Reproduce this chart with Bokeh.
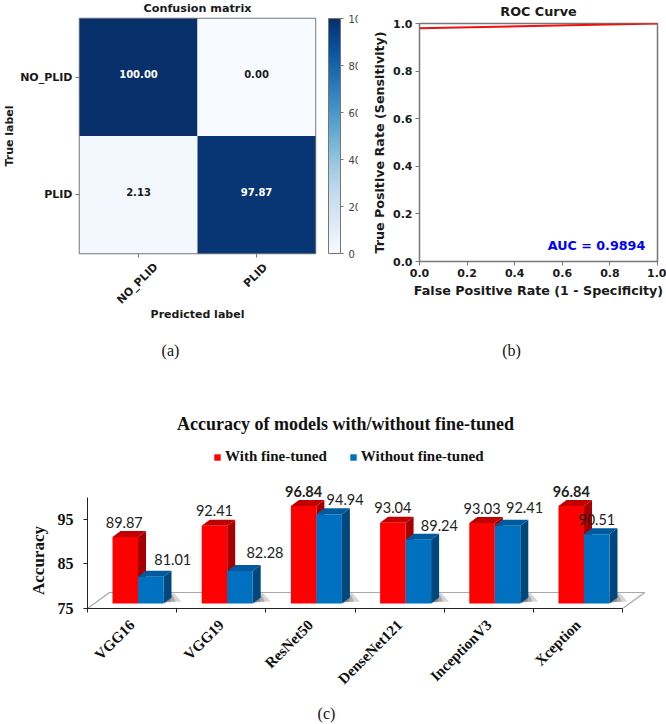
from math import radians, pi
from bokeh.plotting import figure
from bokeh.layouts import column, row
from bokeh.models import (ColumnDataSource, LinearColorMapper, ColorBar, FixedTicker, LinearAxis,
                          Range1d, Legend, LegendItem, PrintfTickFormatter)
from bokeh.palettes import Blues256
from bokeh.core.properties import value
from bokeh.embed import file_html
from bokeh.resources import INLINE

# ---------- data ----------
cm_labels = ["NO_PLID", "PLID"]
cm_values = [[100.00, 0.00], [2.13, 97.87]]
cbar_ticks = [0, 20, 40, 60, 80, 100]
roc_fpr = [0.0, 1.0]
roc_tpr = [0.98, 1.0]
roc_ticks = [0.0, 0.2, 0.4, 0.6, 0.8, 1.0]
auc_text = "AUC = 0.9894"
models = ["VGG16", "VGG19", "ResNet50", "DenseNet121", "InceptionV3", "Xception"]
with_ft = [89.87, 92.41, 96.84, 93.04, 93.03, 96.84]
without_ft = [81.01, 82.28, 94.94, 89.24, 92.41, 90.51]
acc_ticks = [75, 85, 95]

# ---------- styles / layout ----------
SANS = "DejaVu Sans"
SERIF = "Liberation Serif"
AXC = "#777777"
TXT = "#1a1a1a"
RED, RED_TOP, RED_SIDE = "#ff0000", "#c00000", "#a60000"
BLUE, BLUE_TOP, BLUE_SIDE = "#0070c0", "#005a9e", "#00487c"
red_dx = [-1, 0, 0, 0, 0, 0]
blue_dx = [22, 25, 16, 21, 17, 0]
red_dy = [15, 15, 14, 15, 14, 14]
blue_dy = [17, 18, 15, 14, 18, 15]


def style_mpl(ax, size):
    ax.axis_line_color = None
    ax.major_tick_line_color = AXC
    ax.major_tick_out = 4
    ax.major_tick_in = 0
    ax.minor_tick_line_color = None
    ax.major_label_text_font = SANS
    ax.major_label_text_font_style = "bold"
    ax.major_label_text_font_size = size
    ax.major_label_text_color = TXT
    ax.axis_label_text_font = SANS
    ax.axis_label_text_font_style = "bold"
    ax.axis_label_text_color = TXT


def page_text(p, corner, origin, px, py, text, font=SANS, size="11px", style="bold", color=TXT, angle=0.0):
    """Text outside the frame, placed by offset from the frame's bottom-left corner."""
    p.text([corner[0]], [corner[1]], text=[text], x_offset=px - origin[0], y_offset=py - origin[1],
           angle=angle, text_align="center", text_baseline="middle", text_font=value(font),
           text_font_style=style, text_font_size=size, text_color=color, level="overlay")


# ---------- (a) confusion matrix ----------
pal = tuple(reversed(Blues256))
mapper = LinearColorMapper(palette=pal, low=0, high=100)
cx, cy, cv, ct, cc = [], [], [], [], []
for r in range(2):
    for k in range(2):
        v = cm_values[r][k]
        cx.append(k + 0.5); cy.append(r + 0.5); cv.append(v)
        ct.append(f"{v:.2f}")
        cc.append("white" if v > 50 else TXT)
src = ColumnDataSource(dict(x=cx, y=cy, v=cv, t=ct, c=cc))
a = figure(title=None, frame_width=236, frame_height=235, min_border_left=79, min_border_right=43,
           min_border_top=18, min_border_bottom=117, x_range=Range1d(0, 2), y_range=Range1d(2, 0),
           output_backend="svg", toolbar_location=None)
a.grid.visible = False
a.outline_line_color = AXC
a.outline_line_width = 1.5
a.rect("x", "y", 1, 1, source=src, fill_color={"field": "v", "transform": mapper}, line_color=None)
a.text("x", "y", text="t", source=src, text_color="c", text_align="center", text_baseline="middle",
       y_offset=-3, text_font=value(SANS), text_font_style="bold", text_font_size="10px")
a.xaxis.ticker = FixedTicker(ticks=[0.5, 1.5])
a.yaxis.ticker = FixedTicker(ticks=[0.5, 1.5])
a.yaxis.major_label_overrides = {0.5: cm_labels[0], 1.5: cm_labels[1]}
style_mpl(a.xaxis[0], "11px")
style_mpl(a.yaxis[0], "11px")
a.xaxis.major_label_text_color = None
a.xaxis.major_label_text_font_size = "1px"
a.yaxis.major_label_standoff = 3
a.yaxis.axis_label = "True label"
a.yaxis.axis_label_text_font_size = "11px"
a.yaxis.axis_label_standoff = 1
A_C, A_O = (0, 2), (79, 253)
page_text(a, A_C, A_O, 197, 8, "Confusion matrix", size="11.2px")
page_text(a, A_C, A_O, 137, 283, cm_labels[0], angle=radians(45))
page_text(a, A_C, A_O, 255, 275, cm_labels[1], angle=radians(45))
page_text(a, A_C, A_O, 197, 314, "Predicted label", size="11px")
page_text(a, A_C, A_O, 170, 350, "(a)", font=SERIF, size="16px", style="normal", color="#111111")
cb = ColorBar(color_mapper=mapper, ticker=FixedTicker(ticks=cbar_ticks), width=12, height=235,
              location=(249, 0), padding=0, margin=0, major_tick_in=0, major_tick_out=3,
              major_tick_line_color=AXC, minor_tick_line_color=None, bar_line_color=AXC,
              major_label_text_font=SANS, major_label_text_font_size="10px",
              major_label_text_color="#444444", label_standoff=5, background_fill_color=None,
              border_line_color=None)
a.add_layout(cb)

# ---------- (b) ROC ----------
b = figure(title=None, frame_width=238, frame_height=238, min_border_left=61, min_border_right=9,
           min_border_top=23, min_border_bottom=109, x_range=Range1d(0, 1), y_range=Range1d(0, 1),
           output_backend="svg", toolbar_location=None)
b.grid.visible = False
b.outline_line_color = AXC
b.outline_line_width = 1.5
b.line(roc_fpr, roc_tpr, line_color="#f01010", line_width=2)
b.xaxis.ticker = FixedTicker(ticks=roc_ticks)
b.yaxis.ticker = FixedTicker(ticks=roc_ticks)
b.xaxis.formatter = PrintfTickFormatter(format="%.1f")
b.yaxis.formatter = PrintfTickFormatter(format="%.1f")
style_mpl(b.xaxis[0], "11px")
style_mpl(b.yaxis[0], "11px")
b.xaxis.axis_label = "False Positive Rate (1 - Specificity)"
b.yaxis.axis_label = "True Positive Rate (Sensitivity)"
b.xaxis.axis_label_text_font_size = "12.7px"
b.yaxis.axis_label_text_font_size = "12.7px"
b.xaxis.major_label_standoff = 3
b.yaxis.major_label_standoff = 3
b.xaxis.axis_label_standoff = 3
b.yaxis.axis_label_standoff = 3
B_C, B_O = (0, 0), (419, 261)
page_text(b, B_C, B_O, 538, 11, "ROC Curve", size="12.8px")
page_text(b, B_C, B_O, 596, 245, auc_text, size="12.7px", color="#0000ff")
page_text(b, B_C, B_O, 511, 350, "(b)", font=SERIF, size="16px", style="normal", color="#111111")

# ---------- (c) 3D-look bars ----------
PX_X = 89.2
PX_Y = 4.47
FRAME_W, FRAME_H = 563, 168
LIFT = 5 / PX_Y
DX, DY = 8 / PX_X, 6 / PX_Y
LEFT0, BW = 25 / PX_X, 25.5 / PX_X
ymax = 75 + FRAME_H / PX_Y
c = figure(title=None, frame_width=FRAME_W, frame_height=FRAME_H, min_border_left=87, min_border_right=16,
           min_border_top=70, min_border_bottom=116, x_range=Range1d(0, FRAME_W / PX_X),
           y_range=Range1d(75, ymax), output_backend="svg", toolbar_location=None)
c.grid.visible = False
c.outline_line_color = None

fx0, fx1 = 0.0, float(len(models))
fdx, fdy = 22 / PX_X, 16 / PX_Y
c.patch([fx0, fx1, fx1 + fdx, fx0 + fdx], [75, 75, 75 + fdy, 75 + fdy], fill_color="white",
        line_color="#a8a8a8", line_width=1.2)

base = 75 + LIFT
for i in range(len(models)):
    blue_r = i + LEFT0 + 2 * BW
    for reach, alpha in ((18, 0.3), (12, 0.45), (7, 0.6)):
        sx0, sx1 = blue_r, blue_r + reach / PX_X
        c.patch([sx0, sx1, sx0 + 8 / PX_X + (reach - 7) / PX_X * 0.2, sx0],
                [base + 0.2, base + 2 / PX_Y, base + (reach / 3) / PX_Y + 1, base + (reach / 3) / PX_Y + 1],
                fill_color="#777777", fill_alpha=alpha, line_color=None)

rect_r, rect_b = None, None
for i, (vr, vb) in enumerate(zip(with_ft, without_ft)):
    for j, (v, front, top, side) in enumerate(((vr, RED, RED_TOP, RED_SIDE), (vb, BLUE, BLUE_TOP, BLUE_SIDE))):
        x0 = i + LEFT0 + j * BW
        x1 = x0 + BW
        yt = v + LIFT
        c.patch([x1, x1 + DX, x1 + DX, x1], [base, base + DY, yt + DY, yt], fill_color=side, line_color=None)
        c.patch([x0, x1, x1 + DX, x0 + DX], [yt, yt, yt + DY, yt + DY], fill_color=top, line_color=None)
        g = c.quad(left=[x0], right=[x1], bottom=[base], top=[yt], fill_color=front, line_color=None)
        if j == 0 and rect_r is None:
            rect_r = g
        if j == 1 and rect_b is None:
            rect_b = g

lx, ly, lt, lox, loy, lw = [], [], [], [], [], []
for i, (vr, vb) in enumerate(zip(with_ft, without_ft)):
    lx += [i + LEFT0 + BW / 2, i + LEFT0 + 1.5 * BW]
    ly += [vr + LIFT, vb + LIFT]
    lt += [f"{vr:.2f}", f"{vb:.2f}"]
    lox += [red_dx[i], blue_dx[i]]
    loy += [-red_dy[i], -blue_dy[i]]
    lw += ["bold" if vr == max(with_ft) else "normal", "normal"]
c.text(lx, ly, text=lt, x_offset=lox, y_offset=loy, text_align="center", text_baseline="middle",
       text_font=value("Lato"), text_font_size="14.5px", text_color="#222222", text_font_style=lw)

c.xaxis.visible = False
ax_tick = LinearAxis(ticker=FixedTicker(ticks=list(range(len(models) + 1))), axis_line_color="#222222",
                     major_tick_line_color="#222222", major_tick_out=4, major_tick_in=0,
                     minor_tick_line_color=None, major_label_text_color=None,
                     major_label_text_font_size="1px", major_label_standoff=0,
                     bounds=(0, len(models)))
c.add_layout(ax_tick, "below")
centers = [i + 0.5 for i in range(len(models))]
ax_lab = LinearAxis(ticker=FixedTicker(ticks=centers), axis_line_color=None, major_tick_line_color=None,
                    minor_tick_line_color=None, major_label_overrides={m: n for m, n in zip(centers, models)},
                    major_label_orientation=radians(45), major_label_standoff=4,
                    major_label_text_font=SERIF, major_label_text_font_style="bold",
                    major_label_text_font_size="15px", major_label_text_color="#111111")
c.add_layout(ax_lab, "below")
yax = c.yaxis[0]
yax.ticker = FixedTicker(ticks=acc_ticks)
yax.bounds = (75, 75 + (608 - 497) / PX_Y)
yax.axis_line_color = "#222222"
yax.major_tick_line_color = "#222222"
yax.major_tick_out = 4
yax.major_tick_in = 0
yax.minor_tick_line_color = None
yax.major_label_standoff = 10
yax.major_label_text_font = SERIF
yax.major_label_text_font_style = "bold"
yax.major_label_text_font_size = "16px"
yax.major_label_text_color = "#111111"

C_C, C_O = (0, 75), (87, 608)
page_text(c, C_C, C_O, 38, 560, "Accuracy", font=SERIF, size="17px", color="#111111", angle=pi / 2)
page_text(c, C_C, C_O, 345, 423, "Accuracy of models with/without fine-tuned", font=SERIF, size="18px", color="#111111")
leg = Legend(items=[LegendItem(label="With fine-tuned", renderers=[rect_r]),
                    LegendItem(label="Without fine-tuned", renderers=[rect_b])],
             orientation="horizontal", location=(126, 143), padding=0, margin=0, spacing=22,
             glyph_width=8, glyph_height=8, label_standoff=4, border_line_color=None,
             background_fill_color=None, label_text_font=SERIF, label_text_font_style="bold",
             label_text_font_size="15px", label_text_color="#111111")
c.add_layout(leg)
page_text(c, C_C, C_O, 326, 713, "(c)", font=SERIF, size="16px", style="normal", color="#111111")

page = column(row(column(a, margin=0), column(b, margin=0), spacing=0), c, spacing=0, margin=0)
open("out.html", "w").write(file_html(page, INLINE))
